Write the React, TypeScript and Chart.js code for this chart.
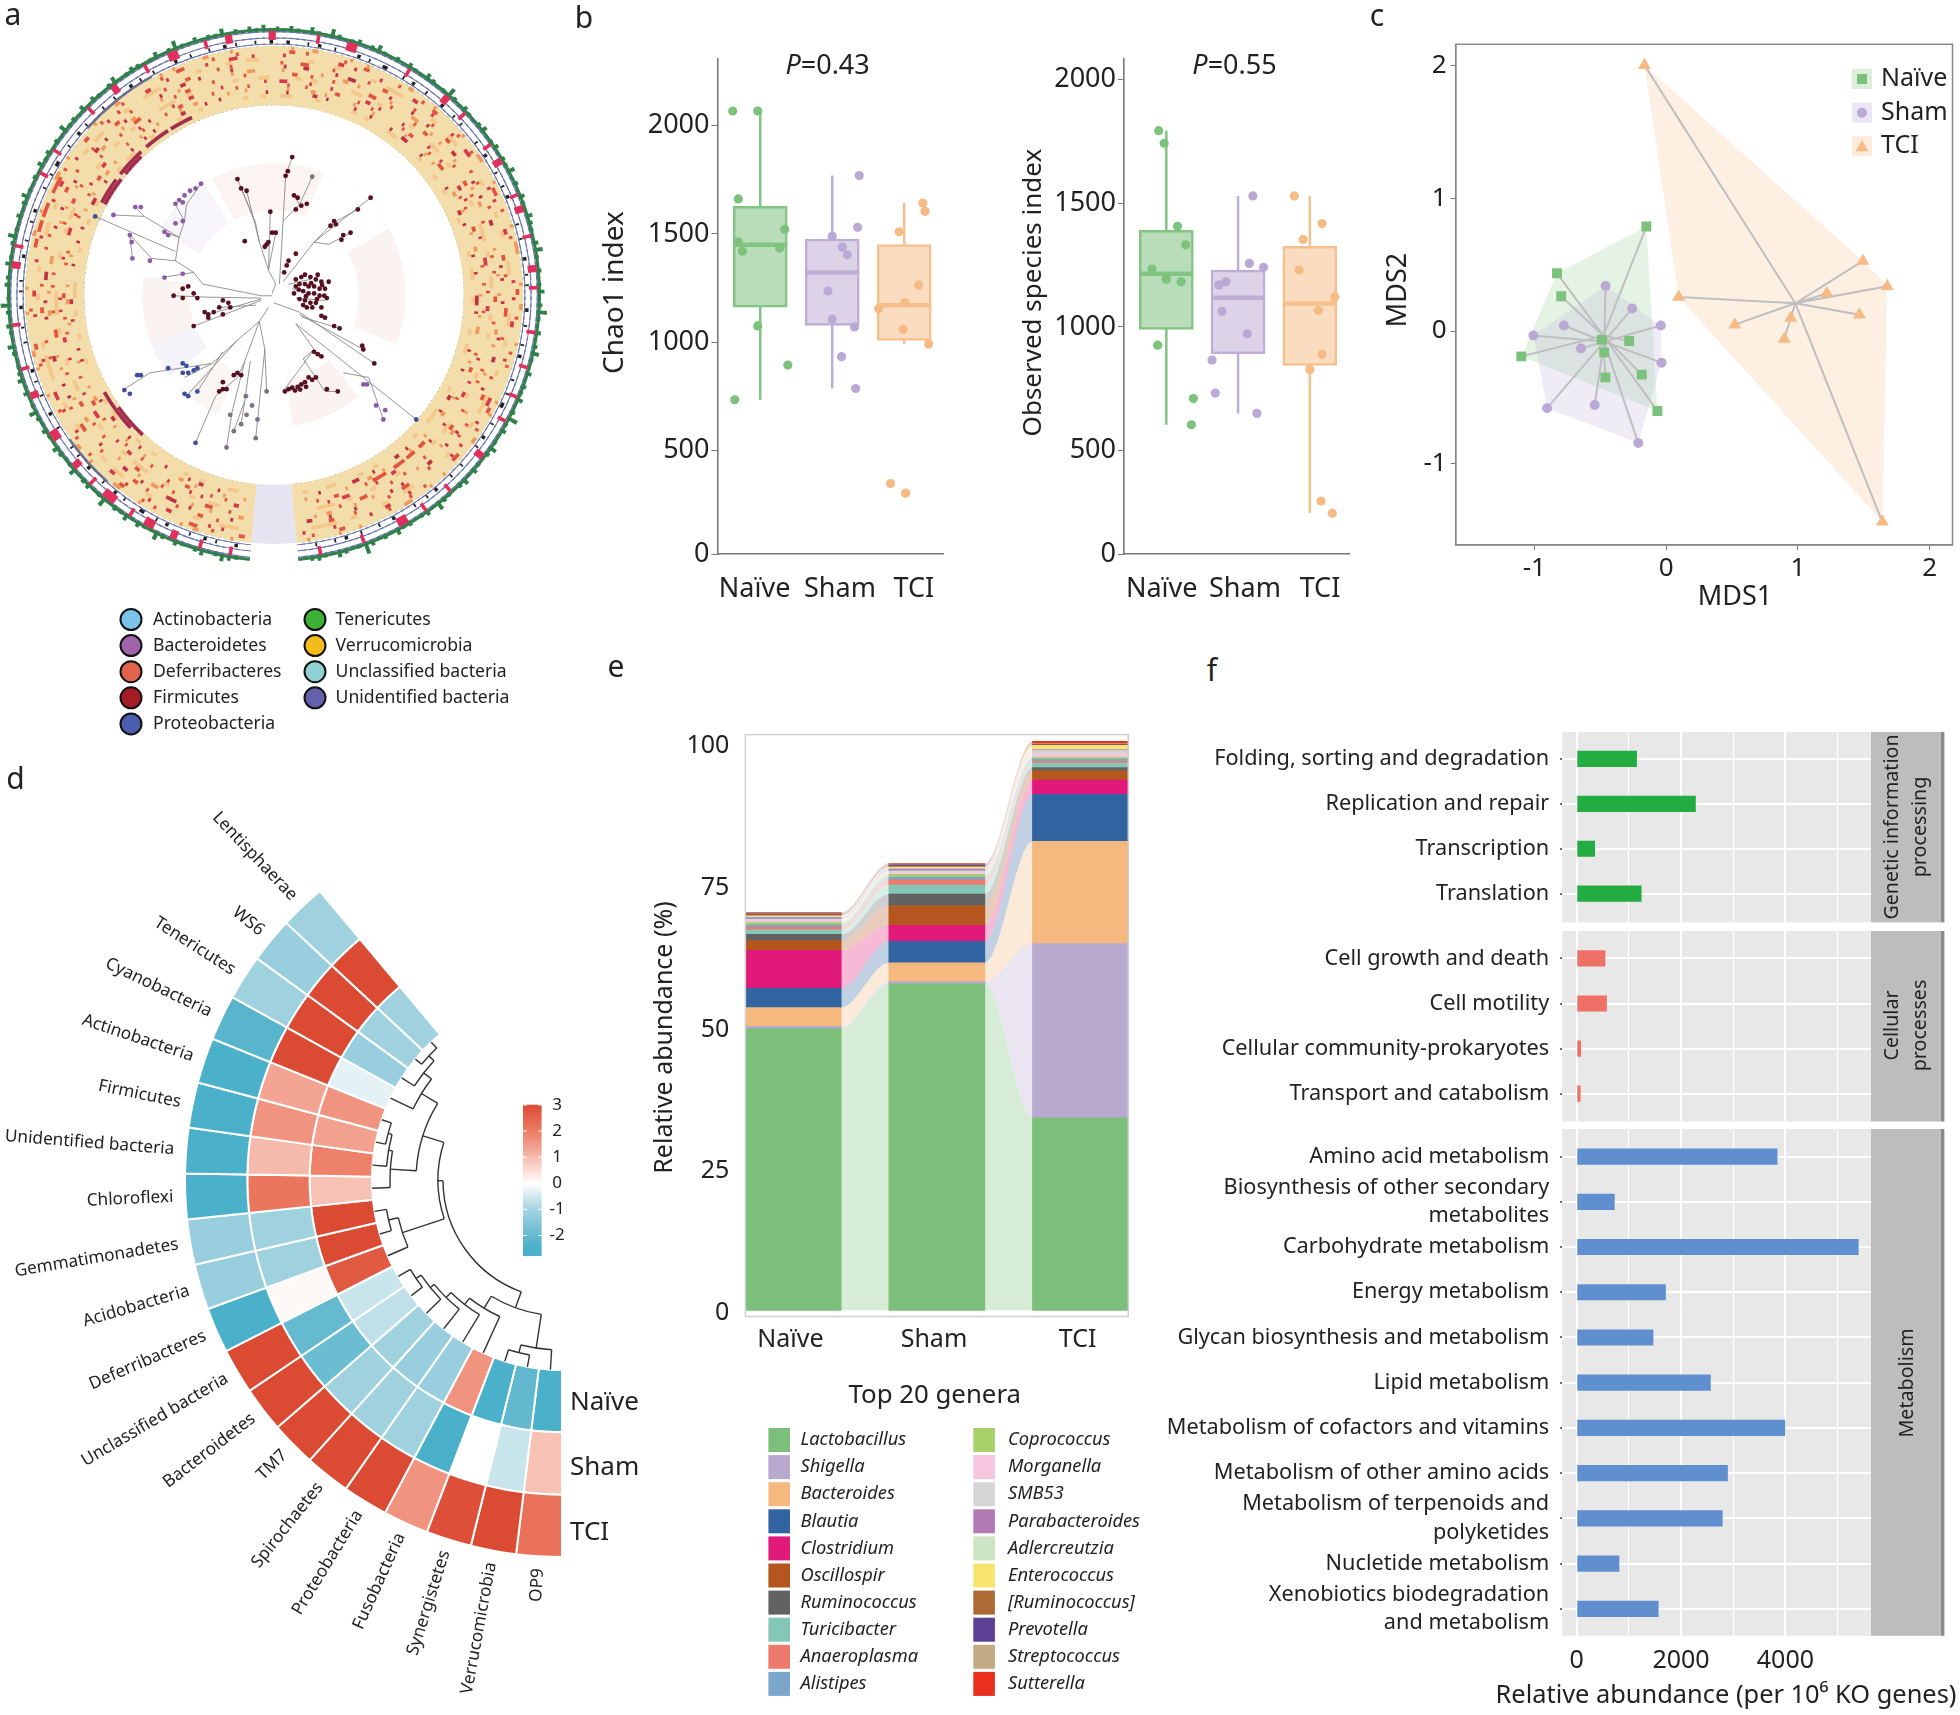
import React, { useEffect, useRef } from 'react';
import { Chart, registerables } from 'chart.js';
Chart.register(...registerables);

const FONT = '"Noto Sans", "Open Sans", sans-serif';
const INK = '#222';
const GROUPS = ['Naïve', 'Sham', 'TCI'];
const GREEN = '#7cc27c', PURPLE = '#b9a9d4', ORANGE = '#f6bb85';
const BOX_FILL = ['#b9dcb9', '#dcd3e8', '#fadcc0'];
const BOX_LINE = ['#82c582', '#bcaed6', '#f6bf8c'];
const DOTS = [GREEN, PURPLE, ORANGE];

/* ---------- panel b ---------- */
const chaoBoxes = [[734, 1161, 1450, 1627, 2067], [786, 1077, 1321, 1476, 1769], [991, 1008, 1170, 1450, 1642]];
const chaoNaive = [[0.617, 2067], [0.965, 2067], [0.695, 1661], [1.34, 1521], [0.695, 1463], [0.752, 1420], [1.269, 1435], [0.965, 1075], [1.383, 894], [0.646, 734]];
const chaoSham = [[2.375, 1769], [2.354, 1530], [2.0, 1489], [2.14, 1439], [2.21, 1403], [1.94, 1236], [2.0, 1106], [2.31, 1070], [2.13, 933], [2.325, 786]];
const chaoTci = [[3.26, 1642], [3.29, 1604], [2.93, 1509], [3.2, 1263], [3.01, 1183], [2.645, 1154], [2.985, 1059], [3.34, 991], [2.81, 347], [3.02, 303]];
const obsBoxes = [[604, 990, 1215, 1391, 1794], [650, 892, 1118, 1230, 1530], [247, 844, 1095, 1326, 1530]];
const obsNaive = [[0.893, 1794], [0.97, 1743], [1.157, 1407], [1.27, 1332], [0.8, 1234], [1.0, 1193], [1.206, 1183], [0.879, 926], [1.377, 710], [1.349, 604]];
const obsSham = [[2.206, 1530], [2.157, 1257], [2.356, 1241], [1.83, 1183], [1.733, 1170], [1.776, 1063], [2.128, 972], [1.637, 866], [1.683, 732], [2.263, 650]];
const obsTci = [[2.786, 1530], [3.17, 1418], [2.907, 1354], [2.85, 1230], [3.349, 1121], [3.12, 1066], [3.17, 889], [3.0, 828], [3.157, 295], [3.313, 246]];

/* ---------- panel c ---------- */
const mdsNaive = [[-0.15, 0.787], [-0.828, 0.435], [-0.796, 0.262], [-1.099, -0.191], [-0.487, -0.066], [-0.28, -0.075], [-0.47, -0.161], [-0.185, -0.328], [-0.461, -0.349], [-0.066, -0.602]];
const mdsSham = [[-0.459, 0.34], [-0.257, 0.17], [-0.04, 0.042], [-0.776, 0.042], [-1.007, -0.033], [-0.646, -0.131], [-0.035, -0.238], [-0.903, -0.581], [-0.542, -0.557], [-0.211, -0.844]];
const mdsTci = [[-0.164, 2.003], [1.494, 0.528], [1.679, 0.337], [1.22, 0.283], [0.095, 0.256], [1.468, 0.122], [0.522, 0.048], [0.946, 0.098], [0.897, -0.06], [1.641, -1.437]];
const mdsCenters = [[-0.476, -0.036], [-0.47, -0.08], [0.981, 0.209]];
const hullNaive = [1, 0, 9, 3];
const hullSham = [0, 2, 6, 9, 7, 4];
const hullTci = [0, 1, 2, 9, 4];

/* ---------- panel d ---------- */
const phyla = ['OP9', 'Verrucomicrobia', 'Synergistetes', 'Fusobacteria', 'Proteobacteria', 'Spirochaetes', 'TM7', 'Bacteroidetes', 'Unclassified bacteria', 'Deferribacteres', 'Acidobacteria', 'Gemmatimonadetes', 'Chloroflexi', 'Unidentified bacteria', 'Firmicutes', 'Actinobacteria', 'Cyanobacteria', 'Tenericutes', 'WS6', 'Lentisphaerae'];
const heatTci = [2.2, 3, 2.9, 1.6, 3, 3, 3, 3, 3, -2.4, -1.2, -1.2, -2.4, -2.4, -2.4, -2.4, -2.2, -1.1, -1.2, -1.1];
const heatSham = [0.9, -0.6, 0, -2.4, -1.1, -1.1, -1.1, -1.9, -2, 0.1, -1.1, -1.1, 2.1, 1, 1.6, 1.35, 3, 3, 3, 3];
const heatNaive = [-2.4, -2.05, -2.4, 1.6, -1.2, -1.2, -1.1, -0.7, -0.6, 2.7, 3, 3, 0.9, 1.9, 1.4, 1.6, -0.3, -1.2, -1.1, -1.1];
const heatStops: [number, number[]][] = [[-2.4, [75, 176, 201]], [-1, [165, 211, 224]], [0, [255, 255, 255]], [1, [246, 186, 172]], [2, [236, 123, 99]], [3, [219, 74, 51]]];
const dendro = [119,
  [124, [168, 9, [178, 10, 11]], [146, [172, 12, [176, 13, [180, 14, 15]]], [165, 16, [175, 17, [182, 18, 19]]]]],
  [136, [170, 0, [178, 1, 2]], [150, 3, [158, 4, [165, 5, [170, 6, [176, 7, 8]]]]]]];

/* ---------- panel e ---------- */
const genera = ['Lactobacillus', 'Shigella', 'Bacteroides', 'Blautia', 'Clostridium', 'Oscillospir', 'Ruminococcus', 'Turicibacter', 'Anaeroplasma', 'Alistipes', 'Coprococcus', 'Morganella', 'SMB53', 'Parabacteroides', 'Adlercreutzia', 'Enterococcus', '[Ruminococcus]', 'Prevotella', 'Streptococcus', 'Sutterella'];
const genusColors = ['#7bbf7b', '#b8a9cf', '#f5b97f', '#3264a2', '#e0197a', '#b6561f', '#626262', '#85c7b7', '#ee7a6e', '#7aa6cb', '#a8d068', '#f5c6de', '#d6d6d6', '#b07ab2', '#cbe5c4', '#f6e46f', '#ad6b33', '#5d3f96', '#c4aa84', '#e9301c'];
const abundNaive = [49.6, 0.4, 3.3, 3.4, 6.7, 1.7, 1.1, 0.8, 0.5, 0.4, 0.4, 0.3, 0.3, 0.25, 0.2, 0.15, 0.2, 0.15, 0.1, 0.1];
const abundSham = [57.5, 0.4, 3.3, 3.8, 2.8, 3.5, 2, 1.6, 0.9, 0.5, 0.5, 0.3, 0.3, 0.3, 0.2, 0.15, 0.2, 0.2, 0.15, 0.1];
const abundTci = [33.9, 30.7, 18, 8.3, 2.5, 1.6, 0.6, 0.8, 0.3, 0.4, 0.3, 0.6, 0.6, 0.1, 0.1, 0.7, 0.1, 0.1, 0.1, 0.4];

/* ---------- panel f ---------- */
const geneticLabels = ['Folding, sorting and degradation', 'Replication and repair', 'Transcription', 'Translation'];
const geneticValues = [1149, 2277, 347, 1238];
const cellularLabels = ['Cell growth and death', 'Cell motility', 'Cellular community-prokaryotes', 'Transport and catabolism'];
const cellularValues = [545, 574, 79, 70];
const metabolismLabels: (string | string[])[] = ['Amino acid metabolism', ['Biosynthesis of other secondary', 'metabolites'], 'Carbohydrate metabolism', 'Energy metabolism', 'Glycan biosynthesis and metabolism', 'Lipid metabolism', 'Metabolism of cofactors and vitamins', 'Metabolism of other amino acids', ['Metabolism of terpenoids and', 'polyketides'], 'Nucletide metabolism', ['Xenobiotics biodegradation', 'and metabolism']];
const metabolismValues = [3842, 723, 5396, 1703, 1465, 2564, 3990, 2891, 2792, 812, 1564];

/* ---------- panel a ---------- */
const phylaLegendA = ['Actinobacteria', 'Bacteroidetes', 'Deferribacteres', 'Firmicutes', 'Proteobacteria', 'Tenericutes', 'Verrucomicrobia', 'Unclassified bacteria', 'Unidentified bacteria'];
const phylaColorsA = ['#7cc3e8', '#9e63ab', '#e0644b', '#a61c24', '#4b5fae', '#3db035', '#f3bb1b', '#8fd0d2', '#6461ac'];
const spikes = [
  271, 269, 272, 270, 268, 273, 270, 269, 275, 271, 268, 270, 272, 269, 271, 274, 270, 268, 271, 269,
  272, 270, 269, 273, 271, 268, 270, 276, 271, 269, 272, 270, 268, 271, 273, 269, 270, 272, 268, 271,
  270, 274, 269, 271, 268, 272, 270, 269, 273, 271, 270, 268, 272, 275, 270, 269, 271, 268, 270, 273,
  269, 271, 276, 270, 268, 272, 269, 271, 274, 270, 269, 272, 268, 271, 270, 273, 269, 271, 277, 270,
  272, 269, 270, 274, 271, 268, 270, 272, 269, 273, 271, 268, 270, 271, 275, 269, 272, 270, 268, 271,
  270, 273, 268, 271, 269, 272, 278, 270, 269, 271, 273, 268, 270, 272, 271, 269, 0, 0, 0, 0,
  0, 0, 0, 0, 0, 270, 272, 274, 270, 269, 273, 271, 268, 270, 272, 269, 271, 275, 268, 270,
  272, 269, 273, 270, 271, 268, 276, 270, 269, 272, 271, 268, 274, 270, 269, 271, 273, 268, 270, 272,
  269, 271, 275, 270, 268, 272, 269, 273, 271, 270, 268, 271, 274, 269, 270, 272, 268, 271, 276, 270,
  269, 272, 271, 268, 273, 270, 269, 271, 275, 270, 268, 272, 269, 271, 274, 270, 268, 271, 269, 273,
  270, 272, 268, 271, 269, 275, 270, 271, 268, 273, 269, 272, 270, 268, 271, 274, 269, 270, 272, 271,
  268, 270, 273, 269, 271, 276, 270, 268, 272, 269, 271, 270, 274, 268, 271, 269, 272, 270, 273, 269,
];
const pinkMarks = [4, 1, 6, 1, 5, 2, 4, 3, 3, 1, 4, 4, 3, 1, 4, 2, 6, 3, 8, 2, 5, 1, 9, 1, 12, 2, 3, 1, 16, 1, 5, 1, 11, 1, 6, 2, 7, 1, 5, 3, 6, 1, 4, 2, 8, 2, 9, 1, 6, 3, 12, 1, 9, 2, 4, 1, 8, 1, 3, 2, 7, 1, 2, 2, 5, 1, 6, 2, 3, 1, 9, 1, 7, 1, 6, 1, 5, 1, 8, 2, 9, 1, 6, 1, 4, 3, 8, 1, 9, 1, 5];
const blackMarks = [3, 2, 4, 1, 2, 2, 3, 1, 5, 2, 2, 1, 3, 3, 4, 1, 2, 2, 3, 1, 4, 2, 3, 1, 2, 1, 5, 1, 3, 2, 4, 1, 3, 1, 2, 2, 6, 1, 3, 1, 4, 2, 3, 1, 2, 1, 5, 2, 3, 1, 4, 1, 2, 2, 5, 1, 3, 1, 2, 3, 4, 1, 3, 2, 2, 1, 5, 1, 3, 1, 4, 2, 2, 1, 3, 1, 5, 2, 3, 1, 4, 1, 3, 2, 2, 1, 4, 1, 3, 2];
const greyBand = [36.5, 13, 77, 19];
const heatTrackColors = ['#ef9a5c', '#e2543f', '#d63a4a', '#f4c68a', '#e2543f', '#c23146', '#ef9a5c', '#e2543f', '#f4c68a', '#d63a4a', '#e2543f', '#ef9a5c', '#c23146', '#f4c68a', '#a32d4f', '#a32d4f'];
const heatTrackScale = [0.7, 0.7, 0.7, 1.6, 0.7, 0.7, 0.7, 0.7, 1.6, 0.7, 0.7, 0.7, 0.7, 1.6, 1, 1];
const heatTracks = [
  [5, 1, 9, 2, 3, 1, 12, 1, 6, 3, 8, 1, 4, 2, 15, 1, 7, 1, 3, 2, 10, 1, 6, 1, 14, 2, 5, 1, 9, 3, 4, 1, 11, 1, 7, 2, 13, 1, 3, 1, 8, 2, 6, 1, 16, 1, 5, 2, 9, 1, 4, 1, 12, 2, 7, 1, 10, 1, 6, 3],
  [2, 2, 7, 1, 4, 3, 10, 1, 3, 1, 6, 2, 11, 1, 5, 1, 8, 1, 13, 1, 4, 2, 9, 1, 17, 3, 2, 4, 1, 5, 3, 6, 2, 1, 9, 2, 5, 1, 7, 1, 12, 1, 4, 3, 8, 1, 6, 1, 14, 2, 3, 1, 10, 1, 5, 2, 9, 1, 7, 1],
  [8, 1, 3, 1, 11, 2, 5, 1, 7, 1, 4, 2, 14, 1, 6, 1, 3, 3, 9, 1, 12, 1, 5, 2, 8, 1, 6, 1, 10, 1, 4, 2, 7, 1, 13, 1, 3, 1, 9, 2, 5, 1, 11, 1, 6, 3, 4, 1, 8, 1, 15, 2, 3, 1, 7, 1, 10, 2, 5, 1],
  [4, 3, 6, 1, 13, 1, 8, 2, 3, 1, 10, 1, 5, 1, 7, 4, 2, 1, 12, 1, 6, 1, 9, 2, 4, 1, 16, 1, 3, 2, 8, 1, 5, 3, 11, 1, 7, 1, 4, 2, 14, 1, 6, 1, 9, 1, 3, 3, 10, 1, 5, 2, 12, 1, 8, 1, 4, 1, 7, 2],
  [10, 1, 4, 2, 6, 1, 9, 1, 3, 2, 12, 1, 7, 3, 5, 1, 15, 1, 4, 1, 8, 2, 6, 1, 10, 1, 3, 1, 13, 2, 5, 1, 7, 1, 9, 2, 4, 1, 11, 1, 6, 2, 8, 1, 3, 1, 14, 1, 5, 3, 7, 1, 10, 1, 4, 2, 9, 1, 6, 1],
  [6, 1, 12, 1, 4, 4, 8, 1, 5, 2, 9, 1, 16, 1, 3, 1, 7, 2, 11, 1, 4, 1, 6, 3, 13, 1, 5, 1, 8, 1, 10, 2, 3, 1, 7, 1, 12, 1, 6, 2, 4, 1, 9, 1, 15, 1, 5, 2, 8, 1, 3, 3, 11, 1, 7, 1, 5, 1, 10, 2],
  [3, 2, 8, 1, 5, 1, 11, 3, 4, 1, 7, 1, 14, 2, 6, 1, 9, 1, 3, 1, 12, 2, 5, 1, 8, 3, 10, 1, 4, 1, 6, 1, 13, 2, 7, 1, 3, 2, 9, 1, 5, 1, 16, 1, 4, 3, 8, 1, 11, 1, 6, 2, 3, 1, 10, 1, 7, 3, 5, 1],
  [7, 1, 5, 3, 10, 1, 3, 1, 8, 2, 13, 1, 4, 1, 6, 2, 9, 1, 11, 3, 5, 1, 7, 1, 3, 1, 15, 1, 6, 2, 4, 1, 10, 1, 8, 1, 5, 3, 12, 1, 3, 2, 7, 1, 9, 1, 14, 2, 4, 1, 6, 1, 11, 3, 5, 1, 8, 1, 3, 2],
  [11, 2, 4, 1, 7, 1, 6, 3, 3, 1, 9, 1, 12, 2, 5, 1, 8, 1, 4, 4, 10, 1, 6, 1, 3, 2, 14, 1, 7, 1, 5, 1, 9, 3, 4, 1, 13, 1, 6, 2, 8, 1, 3, 1, 11, 2, 5, 1, 10, 1, 7, 2, 4, 1, 12, 1, 6, 3, 3, 1],
  [5, 2, 10, 1, 3, 1, 7, 1, 14, 2, 4, 1, 9, 3, 6, 1, 11, 1, 5, 2, 8, 1, 3, 1, 12, 1, 7, 3, 4, 1, 10, 1, 6, 2, 15, 1, 3, 1, 8, 1, 5, 2, 9, 1, 13, 1, 4, 3, 7, 1, 6, 1, 11, 2, 3, 1, 8, 1, 10, 1],
  [9, 1, 4, 1, 7, 2, 12, 1, 3, 1, 6, 1, 10, 1, 5, 2, 8, 1, 14, 1, 4, 1, 6, 2, 9, 1, 3, 1, 11, 1, 7, 1, 5, 2, 13, 1, 6, 1, 8, 1, 4, 2, 10, 1, 7, 1, 3, 1, 12, 1, 5, 1, 9, 2, 6, 1, 4, 1, 11, 1],
  [3, 1, 6, 1, 9, 1, 4, 2, 13, 1, 7, 1, 5, 1, 10, 2, 3, 1, 8, 1, 12, 1, 6, 2, 4, 1, 9, 1, 15, 1, 5, 1, 7, 2, 3, 1, 11, 1, 6, 1, 8, 1, 4, 2, 10, 1, 5, 1, 13, 1, 7, 2, 3, 1, 9, 1, 6, 1, 12, 1],
  [12, 1, 5, 2, 3, 1, 8, 1, 10, 1, 4, 1, 7, 2, 6, 1, 14, 1, 3, 1, 9, 1, 5, 2, 11, 1, 7, 1, 4, 1, 8, 3, 6, 1, 13, 1, 5, 1, 3, 1, 10, 2, 7, 1, 4, 1, 15, 1, 6, 1, 8, 2, 3, 1, 9, 1, 5, 1, 7, 1],
  [6, 2, 8, 1, 4, 1, 11, 1, 5, 1, 9, 2, 3, 1, 13, 1, 7, 1, 6, 1, 4, 3, 10, 1, 8, 1, 5, 1, 12, 1, 3, 2, 7, 1, 9, 1, 6, 1, 14, 1, 4, 1, 5, 2, 8, 1, 11, 1, 3, 1, 7, 2, 10, 1, 6, 1, 4, 1, 9, 1],
  [42, 13, 58, 8, 2, 9, 2, 8, 1, 7],
  [38, 11, 64, 9, 2, 7],
];
const wedgeSpans = [19.8, 17, 10, 16, 30, 21, 29, 4, 50, 38, 52, 28, 32, 13.2];
const wedgeColors = ['#fff', '#fbf5f4', '#fff', '#f5f4fa', '#fbf3f1', '#fff', '#f8f5fa', '#fff', '#fbf4f1', '#fff', '#fbf3f1', '#fff', '#fbf3f1', '#fff'];
const treeBranches = [
  [735, 625, 705, 625, 545, 600, 520, 575, 440, 585], [520, 575, 470, 550, 405, 545, 345, 495, 352, 545], [470, 550, 480, 500, 385, 455, 360, 435], [470, 530, 250, 455], [480, 500, 495, 465, 500, 430, 540, 385], [495, 465, 470, 430], [480, 500, 440, 488], [385, 455, 300, 452],
  [705, 630, 560, 628, 465, 625], [705, 635, 520, 690], [705, 632, 560, 665], [690, 645, 590, 650],
  [725, 650, 700, 680, 640, 720, 500, 840], [640, 720, 570, 770, 400, 790, 330, 825], [570, 770, 495, 800], [600, 745, 530, 830],
  [700, 680, 660, 765, 625, 875, 610, 950], [660, 765, 640, 800, 580, 840, 525, 940], [700, 680, 715, 740, 720, 830], [715, 740, 690, 930], [675, 765, 660, 850, 630, 915], [660, 850, 650, 900],
  [735, 620, 745, 600, 725, 570, 700, 510, 690, 470, 640, 375], [700, 510, 665, 400], [690, 470, 650, 395], [725, 570, 730, 445], [725, 570, 745, 490],
  [755, 600, 765, 465, 772, 368, 790, 328], [765, 465, 810, 430, 845, 370], [810, 430, 795, 410],
  [765, 595, 850, 510, 1005, 415], [850, 510, 900, 470, 970, 440], [850, 510, 890, 515, 950, 490],
  [780, 600, 840, 590], [790, 610, 840, 620], [800, 630, 880, 635],
  [740, 640, 810, 660, 1015, 770], [810, 665, 985, 740], [815, 670, 920, 695], [800, 685, 1130, 890], [930, 790, 1000, 800, 1040, 890], [800, 685, 850, 740, 820, 760, 880, 830, 915, 830], [850, 740, 770, 825],
];
const dotsFirmicutes = [[790, 328], [778, 358], [772, 368], [795, 410], [805, 415], [815, 432], [800, 440], [830, 428], [640, 375], [665, 400], [650, 395], [730, 445], [735, 490], [745, 490], [725, 510], [720, 515], [715, 520], [660, 508], [1005, 415], [970, 440], [950, 490], [930, 495], [925, 505], [905, 465], [910, 472], [895, 475], [780, 550], [775, 560], [768, 575], [800, 535],
  [800, 590], [815, 585], [825, 580], [840, 585], [855, 590], [870, 595], [890, 595], [810, 600], [825, 600], [835, 605], [850, 605], [865, 610], [880, 610], [820, 615], [835, 620], [850, 620], [865, 625], [885, 630], [810, 632], [825, 635], [840, 640], [855, 640], [870, 650], [830, 650], [820, 645], [845, 650], [800, 605], [860, 580], [878, 625], [808, 612], [842, 598], [858, 632], [872, 602], [828, 626], [795, 620],
  [465, 625], [490, 610], [505, 605], [520, 620], [490, 630], [530, 630], [600, 635], [615, 640], [590, 650], [575, 660], [560, 665], [550, 660], [620, 650], [520, 690], [560, 672], [600, 665],
  [985, 740], [982, 732], [1015, 770], [920, 695], [905, 690], [870, 668], [880, 672], [860, 750], [870, 755], [850, 745], [780, 825], [770, 830], [790, 822], [805, 820], [815, 815], [825, 810], [835, 800], [845, 805], [855, 800], [915, 830], [885, 825], [798, 828], [812, 826], [828, 820],
  [640, 790], [650, 795], [630, 795], [600, 825], [590, 830], [610, 825], [600, 810]];
const dotsBacteroidetes = [[540, 385], [525, 395], [510, 400], [495, 410], [490, 425], [470, 428], [480, 420], [490, 465], [470, 470], [440, 488], [450, 495], [375, 435], [360, 435], [300, 452], [350, 510], [345, 495], [352, 545], [400, 550], [490, 578], [440, 586], [995, 815], [1020, 860], [1040, 890], [1045, 870], [985, 815]];
const dotsProteobacteria = [[490, 770], [500, 775], [490, 790], [505, 790], [520, 785], [530, 780], [375, 795], [365, 795], [495, 835], [505, 840], [530, 830], [330, 827], [345, 835], [450, 780], [250, 455], [525, 940], [1130, 890]];
const dotsOther = [[610, 950], [620, 880], [630, 915], [690, 930], [720, 830], [650, 900], [665, 880], [680, 860], [695, 890], [845, 370], [663, 840]];

/* ---------- helpers ---------- */
type Panel = { left: number; top: number; width: number; height: number; config: any };
const base = (extra: any = {}) => ({
  animation: false, responsive: false, devicePixelRatio: 1, events: [],
  ...extra,
  plugins: { legend: { display: false }, tooltip: { enabled: false }, ...(extra.plugins || {}) },
});
const fixH = (h: number) => (s: any) => { s.height = h; };
const fixW = (w: number) => (s: any) => { s.width = w; };
const setTicks = (vals: number[]) => (s: any) => { s.ticks = vals.map((value) => ({ value })); };
function txt(ctx: any, s: string, x: number, y: number, size: number, o: any = {}) {
  ctx.save();
  ctx.translate(x, y);
  if (o.rot) ctx.rotate(o.rot);
  ctx.font = `${o.italic ? 'italic ' : ''}${size}px ${FONT}`;
  ctx.fillStyle = o.color || INK;
  ctx.textAlign = o.align || 'center';
  ctx.textBaseline = 'middle';
  ctx.fillText(s, 0, 0);
  ctx.restore();
}
const onPage = (p: { left: number; top: number }, draw: (ctx: any, c: any) => void, hook = 'afterDraw') => ({
  id: 'extra' + hook,
  [hook](chart: any) {
    const ctx = chart.ctx;
    ctx.save();
    ctx.translate(-p.left, -p.top);
    draw(ctx, chart);
    ctx.restore();
  },
});
const xy = (a: number[][]) => a.map(([x, y]) => ({ x, y }));
const GAP = { x: null, y: null };

function boxPanel(left: number, areaL: number, areaR: number, boxes: number[][], pts: number[][][], ymin: number, ymax: number, yVals: number[], xmin: number, xmax: number, xVals: number[], ylabel: string, ylabelX: number, ylabelY: number, ylabelSize: number, pval: string, pX: number): Panel {
  const p: any = { left, top: 20, width: Math.ceil(areaR + 16 - left), height: 600 };
  const datasets: any[] = [
    {
      type: 'bar', order: 2, data: boxes.map((b, i) => ({ x: i + 1, y: [b[1], b[3]] })),
      backgroundColor: BOX_FILL, borderColor: BOX_LINE, borderWidth: 2.5, borderSkipped: false, barThickness: 54,
    },
  ];
  boxes.forEach((b, i) => {
    datasets.push({ type: 'line', order: 3, data: [{ x: i + 1, y: b[0] }, { x: i + 1, y: b[4] }], borderColor: BOX_LINE[i], borderWidth: 2.5, pointRadius: 0 });
    datasets.push({ type: 'line', order: 1, data: [{ x: i + 0.625, y: b[2] }, { x: i + 1.375, y: b[2] }], borderColor: BOX_LINE[i], borderWidth: 4.5, pointRadius: 0 });
    datasets.push({ type: 'scatter', order: 0, data: xy(pts[i]), backgroundColor: DOTS[i], borderWidth: 0, pointRadius: 4.6 });
  });
  p.config = {
    type: 'bar', data: { datasets },
    options: base({
      layout: { padding: { left: 0, top: 59 - p.top, right: p.left + p.width - areaR, bottom: 0 } },
      scales: {
        x: {
          type: 'linear', offset: false, min: xmin, max: xmax, afterFit: fixH(p.top + p.height - 554), afterBuildTicks: setTicks(xVals),
          grid: { offset: false, drawOnChartArea: false, drawTicks: false }, border: { color: '#777', width: 1.6 },
          ticks: { autoSkip: false, maxRotation: 0, padding: 19, color: INK, font: { family: FONT, size: 27 }, callback: (v: number) => GROUPS[xVals.indexOf(v)] },
        },
        y: {
          type: 'linear', min: ymin, max: ymax, afterFit: fixW(areaL - left), afterBuildTicks: setTicks(yVals),
          grid: { offset: false, drawOnChartArea: false, tickLength: 6, tickColor: '#777' }, border: { color: '#777', width: 1.6 },
          ticks: { autoSkip: false, padding: 2, color: INK, font: { family: FONT, size: 27 }, callback: (v: number) => (v < 100 ? '0' : String(v)) },
        },
      },
    }),
    plugins: [onPage(p, (ctx) => {
      txt(ctx, ylabel, ylabelX, ylabelY, ylabelSize, { rot: -Math.PI / 2 });
      ctx.save();
      ctx.font = `italic 27px ${FONT}`;
      const w1 = ctx.measureText('P').width;
      ctx.font = `27px ${FONT}`;
      const w2 = ctx.measureText(pval).width;
      ctx.restore();
      const start = pX - (w1 + w2) / 2;
      txt(ctx, 'P', start, 66, 27, { italic: true, align: 'left' });
      txt(ctx, pval, start + w1, 66, 27, { align: 'left' });
    })],
  };
  return p;
}

function mdsPanel(): Panel {
  const p: any = { left: 1380, top: 20, width: 580, height: 600 };
  const L = 1455.7, R = 1956, T = 44.3, B = 544.9;
  const groups = [mdsNaive, mdsSham, mdsTci];
  const hulls = [hullNaive, hullSham, hullTci];
  const fills = ['rgba(123,193,123,0.2)', 'rgba(184,169,212,0.22)', 'rgba(246,187,133,0.24)'];
  const styles = ['rect', 'circle', 'triangle'];
  const radii = [7, 5, 7.5];
  const datasets: any[] = [];
  groups.forEach((g, i) => {
    const poly = hulls[i].map((k) => ({ x: g[k][0], y: g[k][1] }));
    poly.push(poly[0]);
    datasets.push({ type: 'line', order: 5 - i, data: poly, fill: 'shape', backgroundColor: fills[i], borderWidth: 0, pointRadius: 0, tension: 0 });
    const c = { x: mdsCenters[i][0], y: mdsCenters[i][1] };
    datasets.push({ type: 'line', order: 2, data: g.flatMap(([x, y]) => [c, { x, y }, GAP]), borderColor: '#bfbfbf', borderWidth: 2, pointRadius: 0, spanGaps: false, fill: false });
    datasets.push({ type: 'scatter', order: 0, data: xy(g), pointStyle: styles[i], pointRadius: radii[i], backgroundColor: DOTS[i], borderWidth: 0 });
  });
  p.config = {
    type: 'scatter', data: { datasets },
    options: base({
      layout: { padding: { left: 0, top: T - p.top, right: p.left + p.width - R, bottom: 0 } },
      scales: {
        x: {
          type: 'linear', min: -1.597, max: 2.174, afterFit: fixH(p.top + p.height - B), afterBuildTicks: setTicks([-1, 0, 1, 2]),
          grid: { drawOnChartArea: false, tickLength: 5, tickColor: '#777' }, border: { color: '#888', width: 1.5 },
          ticks: { autoSkip: false, maxRotation: 0, padding: 3, color: INK, font: { family: FONT, size: 26 }, callback: (v: number) => String(v) },
        },
        y: {
          type: 'linear', min: -1.611, max: 2.16, afterFit: fixW(L - p.left), afterBuildTicks: setTicks([-1, 0, 1, 2]),
          grid: { drawOnChartArea: false, tickLength: 5, tickColor: '#777' }, border: { color: '#888', width: 1.5 },
          ticks: { autoSkip: false, padding: 4, color: INK, font: { family: FONT, size: 26 }, callback: (v: number) => String(v) },
        },
      },
    }),
    plugins: [onPage(p, (ctx, c) => {
      ctx.strokeStyle = '#888'; ctx.lineWidth = 1.5;
      const a = c.chartArea;
      ctx.strokeRect(a.left + p.left, a.top + p.top, a.right - a.left, a.bottom - a.top);
      txt(ctx, 'MDS1', 1735, 597, 27);
      txt(ctx, 'MDS2', 1398, 290, 27, { rot: -Math.PI / 2 });
      const rows = [79, 112.7, 146.3];
      const keyBg = ['#dceedc', '#ebe6f3', '#fdebdb'];
      rows.forEach((y, i) => {
        ctx.fillStyle = keyBg[i];
        ctx.fillRect(1852, y - 10, 20, 20);
        ctx.fillStyle = DOTS[i];
        if (i === 0) ctx.fillRect(1857, y - 5, 10, 10);
        else if (i === 1) { ctx.beginPath(); ctx.arc(1862, y, 5, 0, 7); ctx.fill(); }
        else { ctx.beginPath(); ctx.moveTo(1862, y - 6); ctx.lineTo(1868.5, y + 5); ctx.lineTo(1855.5, y + 5); ctx.fill(); }
        txt(ctx, GROUPS[i], 1881, y, 25, { align: 'left' });
      });
    })],
  };
  return p;
}

function heatColor(v: number) {
  const s = heatStops;
  if (v <= s[0][0]) return `rgb(${s[0][1].join(',')})`;
  for (let i = 1; i < s.length; i++) {
    if (v <= s[i][0]) {
      const t = (v - s[i - 1][0]) / (s[i][0] - s[i - 1][0]);
      const c = s[i - 1][1].map((a, k) => Math.round(a + (s[i][1][k] - a) * t));
      return `rgb(${c.join(',')})`;
    }
  }
  return `rgb(${s[s.length - 1][1].join(',')})`;
}

function heatPanel(): Panel {
  const cx = 562, cy = 1180;
  const p: any = { left: 0, top: cy - 562, width: 1124, height: 1124 };
  const STEP = 7;
  const rest = (360 - STEP * phyla.length) / STEP;
  const ring = (vals: number[]) => ({
    data: [...vals.map(() => 1), rest],
    backgroundColor: [...vals.map(heatColor), 'transparent'],
    borderColor: [...vals.map(() => '#fff'), 'transparent'],
    borderWidth: [...vals.map(() => 2), 0],
  });
  const theta = (k: number) => 180 + STEP * (k + 0.5);
  const toCanvas = (deg: number) => ((deg - 90) * Math.PI) / 180;
  p.config = {
    type: 'doughnut',
    data: { labels: [...phyla, ''], datasets: [ring(heatTci), ring(heatSham), ring(heatNaive)] },
    options: base({ radius: 377, cutout: '50.4%', rotation: 180, circumference: 360 }),
    plugins: [onPage(p, (ctx) => {
      phyla.forEach((name, k) => {
        const t = (theta(k) * Math.PI) / 180;
        const sin = Math.sin(t), cos = Math.cos(t);
        txt(ctx, name, cx + sin * 389, cy - cos * 389, 17.2, { align: 'right', rot: Math.atan2(cos, -sin) });
      });
      txt(ctx, 'Naïve', 570, 1403, 26, { align: 'left' });
      txt(ctx, 'Sham', 570, 1468, 26, { align: 'left' });
      txt(ctx, 'TCI', 570, 1533, 26, { align: 'left' });
      // dendrogram
      ctx.strokeStyle = '#333'; ctx.lineWidth = 1.4;
      const walk = (n: any): { th: number; r: number } => {
        if (typeof n === 'number') return { th: theta(n), r: 190 };
        const a = walk(n[1]), b = walk(n[2]);
        const r = n[0];
        ctx.beginPath();
        ctx.arc(cx, cy, r, toCanvas(a.th), toCanvas(b.th), a.th > b.th);
        ctx.stroke();
        [a, b].forEach((c) => {
          const q = toCanvas(c.th);
          ctx.beginPath();
          ctx.moveTo(cx + Math.cos(q) * r, cy + Math.sin(q) * r);
          ctx.lineTo(cx + Math.cos(q) * c.r, cy + Math.sin(q) * c.r);
          ctx.stroke();
        });
        return { th: (a.th + b.th) / 2, r };
      };
      walk(dendro);
      // colour bar
      const top = 1104.7, bottom = 1256, y3 = 1105, per = 26.1;
      const g = ctx.createLinearGradient(0, top, 0, bottom);
      for (let v = 3; v >= -2.8; v -= 0.25) g.addColorStop(Math.min(1, (y3 + (3 - v) * per - top) / (bottom - top)), heatColor(v));
      ctx.fillStyle = g;
      ctx.fillRect(523, top, 18.6, bottom - top);
      ['3', '2', '1', '0', '-1', '-2'].forEach((t, i) => {
        const y = y3 + i * per;
        ctx.strokeStyle = '#fff'; ctx.lineWidth = 1;
        ctx.beginPath(); ctx.moveTo(523, y); ctx.lineTo(527, y); ctx.moveTo(538, y); ctx.lineTo(541.6, y); ctx.stroke();
        txt(ctx, t, 557, y, 17);
      });
    })],
  };
  return p;
}

function alluvialPanel(): Panel {
  const p: any = { left: 640, top: 700, width: 510, height: 1000 };
  const L = 745.4, R = 1128.3, T = 734.6, B = 1316.5;
  const sets = [abundNaive, abundSham, abundTci];
  const flowX = [0.667, 1.333, 1.667, 2.333, 2.667, 3.333];
  const alpha = (hex: string, a: number) => {
    const n = parseInt(hex.slice(1), 16);
    return `rgba(${n >> 16},${(n >> 8) & 255},${n & 255},${a})`;
  };
  const flows = genera.map((_, g) => ({
    type: 'line', order: 1, stack: 'flow', fill: g === 0 ? 'origin' : '-1', cubicInterpolationMode: 'monotone',
    backgroundColor: alpha(genusColors[g], 0.3), borderWidth: 0, pointRadius: 0,
    data: flowX.map((x, i) => ({ x, y: sets[Math.floor(i / 2)][g] })),
  }));
  const bars = genera.map((_, g) => ({
    type: 'bar', order: 0, stack: 'bars', backgroundColor: genusColors[g], borderWidth: 0, barThickness: 96,
    data: sets.map((s, i) => ({ x: i + 1, y: s[g] })),
  }));
  const xVals = [0.98, 1.98, 2.98];
  p.config = {
    type: 'bar', data: { datasets: [...flows, ...bars] },
    options: base({
      layout: { padding: { left: 0, top: T - p.top, right: p.left + p.width - R, bottom: 0 } },
      scales: {
        x: {
          type: 'linear', offset: false, min: 0.667, max: 3.333, afterFit: fixH(p.top + p.height - B), afterBuildTicks: setTicks(xVals),
          grid: { offset: false, display: false }, border: { display: false },
          ticks: { autoSkip: false, maxRotation: 0, padding: 0, color: INK, font: { family: FONT, size: 25 }, callback: (v: number) => GROUPS[xVals.indexOf(v)] },
        },
        y: {
          type: 'linear', stacked: true, min: -1.09, max: 101.4, afterFit: fixW(L - p.left), afterBuildTicks: setTicks([0, 25, 50, 75, 100]),
          grid: { display: false }, border: { display: false },
          ticks: { autoSkip: false, padding: 8, labelOffset: 3, color: INK, font: { family: FONT, size: 25 }, callback: (v: number) => String(v) },
        },
      },
    }),
    plugins: [onPage(p, (ctx) => {
      ctx.strokeStyle = '#cfcfcf'; ctx.lineWidth = 1.5;
      ctx.strokeRect(L, T, R - L, B - T);
      txt(ctx, 'Relative abundance (%)', 664.4, 1037.5, 25, { rot: -Math.PI / 2 });
      txt(ctx, 'Top 20 genera', 934.8, 1396, 25.8);
      genera.forEach((name, i) => {
        const col = i < 10 ? 0 : 1;
        const row = i % 10;
        const y = 1440 + row * 27.1;
        const sx = col ? 973.3 : 768.4;
        ctx.fillStyle = genusColors[i];
        ctx.fillRect(sx, y - 12, 21.6, 24);
        txt(ctx, name, col ? 1008 : 800.5, y, 18.3, { italic: true, align: 'left' });
      });
    })],
  };
  return p;
}

function facet(areaT: number, areaB: number, labels: (string | string[])[], values: number[], color: string, firstY: number, spacing: number, strip: [string, number, number][], showX: boolean): Panel {
  const top = areaT - 40;
  const height = showX ? 1715 - top : areaB + 40 - top;
  const p: any = { left: 1150, top, width: 810, height };
  const L = 1562.2, R = 1871;
  const idx = labels.map((_, i) => i + 1);
  const ymin = 1 - (firstY - areaT) / spacing;
  const ymax = 1 + (areaB - firstY) / spacing;
  p.config = {
    type: 'bar',
    data: { datasets: [{ data: values.map((v, i) => ({ x: v, y: i + 1 })), backgroundColor: color, borderWidth: 0, barThickness: 15.5, indexAxis: 'y' }] },
    options: base({
      indexAxis: 'y',
      layout: { padding: { left: 0, top: areaT - top, right: p.left + p.width - R, bottom: 0 } },
      scales: {
        x: {
          type: 'linear', offset: false, min: -276, max: 5640, afterFit: fixH(top + height - areaB), afterBuildTicks: setTicks([0, 1000, 2000, 3000, 4000, 5000]),
          grid: { offset: false, drawTicks: false, color: '#fff', lineWidth: (c: any) => (c.tick && c.tick.value % 2000 === 0 ? 2 : 1) }, border: { display: false },
          ticks: { display: showX, autoSkip: false, maxRotation: 0, padding: 10, color: INK, font: { family: FONT, size: 25 }, callback: (v: number) => (v % 2000 === 0 ? String(v) : '') },
        },
        y: {
          type: 'linear', reverse: true, offset: false, min: ymin, max: ymax, afterFit: fixW(L - p.left), afterBuildTicks: setTicks(idx),
          grid: { offset: false, color: '#fff', lineWidth: 2, tickColor: '#555', tickLength: 2 }, border: { display: false },
          ticks: { autoSkip: false, padding: 11, color: INK, font: { family: FONT, size: 21.7, lineHeight: 1.32 }, callback: (v: number) => labels[v - 1] },
        },
      },
    }),
    plugins: [
      onPage(p, (ctx) => { ctx.fillStyle = '#e8e8e8'; ctx.fillRect(L, areaT, R - L, areaB - areaT); }, 'beforeDraw'),
      onPage(p, (ctx) => {
        ctx.fillStyle = '#bdbdbd'; ctx.fillRect(R, areaT, 70, areaB - areaT);
        ctx.fillStyle = '#8a8a8a'; ctx.fillRect(R + 70, areaT, 3.4, areaB - areaT);
        strip.forEach(([s, x, y]) => txt(ctx, s, x, y, 19.7, { rot: -Math.PI / 2 }));
        if (showX) txt(ctx, 'Relative abundance (per 10⁶ KO genes)', 1726, 1696, 25.4);
      }),
    ],
  };
  return p;
}

function segData(list: number[], limit: number, markScale: number, gapScale = 1) {
  const out: number[] = [];
  let sum = 0;
  for (let i = 0; i < list.length; i++) {
    const d = i % 2 === 1 ? list[i] * markScale : list[i] * gapScale;
    if (sum + d > limit) break;
    out.push(d);
    sum += d;
  }
  if (out.length % 2 === 1) out[out.length - 1] += 360 - sum;
  else out.push(360 - sum);
  return out;
}
const segColors = (list: number[], color: string) => list.map((_, i) => (i % 2 === 1 ? color : 'transparent'));

function ringPanels(): Panel[] {
  const left = -6, top = 14.5, size = 560;
  const spot = (config: any): Panel => ({ left, top, width: size, height: size, config });
  const rot = 185.2;
  const polar = spot({
    type: 'polarArea',
    data: { labels: spikes.map(() => ''), datasets: [{ data: spikes, backgroundColor: '#2f8049', borderColor: '#fff', borderWidth: 3 }] },
    options: base({ scales: { r: { display: false, min: 0, max: 281 } } }),
  });
  const line = { data: [349.6, 10.4], backgroundColor: ['#6e6fb5', '#fff'], borderWidth: 0 };
  const white = { data: [349.6, 10.4], backgroundColor: ['#fff', '#fff'], borderWidth: 0 };
  const baseRing = spot({
    type: 'doughnut',
    data: {
      datasets: [
        { data: [349.6, 10.4], backgroundColor: ['#2f8049', '#fff'], borderWidth: 0, weight: 3 },
        { ...line, weight: 1.2 }, { ...white, weight: 5 }, { ...line, weight: 1.2 }, { ...white, weight: 5 }, { ...line, weight: 1.2 }, { ...white, weight: 1.4 },
        { data: [349.6, 10.4], backgroundColor: ['#f3ddab', '#e6e4f0'], borderWidth: 0, weight: 59.2 },
        { ...white, weight: 58 },
        { data: wedgeSpans, backgroundColor: wedgeColors, borderWidth: 0, weight: 47 },
        { data: [1], backgroundColor: ['#fff'], borderWidth: 0, weight: 85 },
      ],
    },
    options: base({ radius: 267, cutout: 0, rotation: rot }),
  });
  const tracks = heatTracks.map((t, i) => {
    const joined = i < 14 ? [...t, ...heatTracks[(i + 5) % 14]] : t;
    const d = segData(joined, 348, heatTrackScale[i], i < 14 ? 0.85 : 1);
    return { data: d, backgroundColor: segColors(d, heatTrackColors[i]), borderWidth: 0, weight: 3.69 };
  });
  const pd = segData([...pinkMarks, ...pinkMarks], 349, 0.8);
  const bd = segData([...blackMarks, ...blackMarks, ...blackMarks], 349, 0.4);
  const gd = segData(greyBand, 349, 1);
  const marks = spot({
    type: 'doughnut',
    data: {
      datasets: [
        { data: pd, backgroundColor: segColors(pd, '#e0305e'), borderWidth: 0, weight: 9 },
        { data: bd, backgroundColor: segColors(bd, '#222'), borderWidth: 0, weight: 3.5 },
        { data: gd, backgroundColor: segColors(gd, '#6d6d8c'), borderWidth: 0, weight: 2.5 },
        ...tracks,
      ],
    },
    options: base({ radius: 264, cutout: '71.97%', rotation: rot }),
  });
  return [polar, baseRing, marks];
}

function treePanel(): Panel {
  const p: any = { left: 0, top: 0, width: 580, height: 740 };
  const lines = treeBranches.flatMap((b) => {
    const pts: any[] = [];
    for (let i = 0; i < b.length; i += 2) pts.push({ x: b[i], y: b[i + 1] });
    pts.push(GAP);
    return pts;
  });
  const dot = (a: number[][], c: string) => ({ type: 'scatter', order: 0, data: xy(a), backgroundColor: c, borderWidth: 0, pointRadius: 2.4 });
  p.config = {
    type: 'scatter',
    data: {
      datasets: [
        { type: 'line', order: 1, data: lines, borderColor: '#8a8a8a', borderWidth: 0.9, pointRadius: 0, spanGaps: false },
        dot(dotsFirmicutes, '#56101f'), dot(dotsBacteroidetes, '#8a5aa6'), dot(dotsProteobacteria, '#3d4f9f'), dot(dotsOther, '#7d6f86'),
      ],
    },
    options: base({
      scales: {
        x: { type: 'linear', display: false, min: 0, max: 1568 },
        y: { type: 'linear', display: false, min: 0, max: 1568, reverse: true },
      },
    }),
    plugins: [onPage(p, (ctx) => {
      phylaLegendA.forEach((name, i) => {
        const col = i < 5 ? 0 : 1;
        const row = col ? i - 5 : i;
        const y = 619.5 + row * 26.1;
        const cx = col ? 315 : 131;
        ctx.beginPath(); ctx.arc(cx, y, 10.5, 0, 7);
        ctx.fillStyle = phylaColorsA[i]; ctx.fill();
        ctx.strokeStyle = '#111'; ctx.lineWidth = 2; ctx.stroke();
        txt(ctx, name, col ? 335.6 : 153, y, 17.6, { align: 'left' });
      });
    })],
  };
  return p;
}

function buildPanels(): Panel[] {
  return [
    ...ringPanels(),
    treePanel(),
    boxPanel(595, 717.5, 943.5, chaoBoxes, [chaoNaive, chaoSham, chaoTci], 22, 2307, [22, 500, 1000, 1500, 2000], 0.406, 3.546, [0.922, 2.107, 3.135], 'Chao1 index', 615, 292.6, 28, '=0.43', 827.6),
    boxPanel(1010, 1124, 1349.6, obsBoxes, [obsNaive, obsSham, obsTci], 81, 2084, [81, 500, 1000, 1500, 2000], 0.41, 3.555, [0.936, 2.096, 3.142], 'Observed species index', 1034, 292.6, 26, '=0.55', 1234.5),
    mdsPanel(),
    heatPanel(),
    alluvialPanel(),
    facet(732, 922.4, geneticLabels, geneticValues, '#22ac41', 759, 45, [['Genetic information', 1892, 827], ['processing', 1920, 827]], false),
    facet(930.5, 1121, cellularLabels, cellularValues, '#ee7067', 958, 45.2, [['Cellular', 1892, 1025], ['processes', 1920, 1025]], false),
    facet(1129, 1635.8, metabolismLabels, metabolismValues, '#608fd0', 1156.6, 45.22, [['Metabolism', 1907, 1383]], true),
  ];
}

const letters: [string, number, number][] = [['a', 13, 14], ['b', 584, 17], ['c', 1377, 15], ['d', 15.5, 778], ['e', 616, 666], ['f', 1212, 670]];

export default function App() {
  const panels = useRef<Panel[]>(buildPanels());
  const refs = useRef<(HTMLCanvasElement | null)[]>([]);
  useEffect(() => {
    const charts = panels.current.map((p, i) => new Chart(refs.current[i] as HTMLCanvasElement, p.config));
    return () => charts.forEach((c) => c.destroy());
  }, []);
  return (
    <div style={{ position: 'absolute', left: 0, top: 0, width: 1960, height: 1715, overflow: 'hidden', background: '#fff', fontFamily: FONT, color: INK }}>
      {panels.current.map((p, i) => (
        <canvas key={i} ref={(el) => { refs.current[i] = el; }} width={p.width} height={p.height} style={{ position: 'absolute', left: p.left, top: p.top }} />
      ))}
      {letters.map(([s, x, y]) => (
        <div key={s} style={{ position: 'absolute', left: x, top: y, fontSize: 30, lineHeight: 1, transform: 'translate(-50%,-50%)' }}>{s}</div>
      ))}
    </div>
  );
}
